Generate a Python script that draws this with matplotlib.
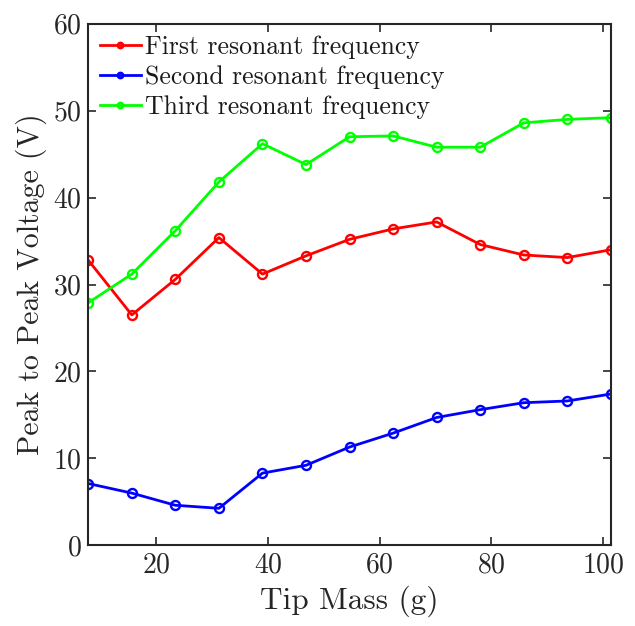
import matplotlib
matplotlib.use("Agg")
import matplotlib.pyplot as plt

plt.rcParams['font.family'] = ['cmr10', 'DejaVu Serif']
plt.rcParams['axes.formatter.use_mathtext'] = True
plt.rcParams['mathtext.fontset'] = 'cm'

tip_mass = [7.8, 15.6, 23.4, 31.2, 39.0, 46.8, 54.6, 62.4, 70.2, 78.0, 85.8, 93.6, 101.4]
first_freq = [32.8, 26.5, 30.6, 35.4, 31.2, 33.3, 35.2, 36.4, 37.2, 34.6, 33.4, 33.1, 34.0]
second_freq = [7.1, 6.0, 4.6, 4.25, 8.3, 9.2, 11.3, 12.9, 14.7, 15.6, 16.4, 16.6, 17.4]
third_freq = [27.9, 31.2, 36.2, 41.8, 46.2, 43.8, 47.0, 47.1, 45.8, 45.8, 48.6, 49.0, 49.2]
labels = ['First resonant frequency', 'Second resonant frequency', 'Third resonant frequency']
colors = ['#ff0000', '#0000ff', '#00ff00']
xticks = [20, 40, 60, 80, 100]
yticks = [0, 10, 20, 30, 40, 50, 60]

fig = plt.figure(figsize=(6.35, 6.26), dpi=100)
ax = fig.add_axes([0.139, 0.129, 0.823, 0.833])

for ys, lab, c in zip([first_freq, second_freq, third_freq], labels, colors):
    ax.plot(tip_mass, ys, '-o', color=c, lw=2, markersize=6.5, markerfacecolor='none',
            markeredgewidth=1.7, label=lab)

ax.set_xlim(tip_mass[0], tip_mass[-1])
ax.set_ylim(0, 60)
ax.set_xticks(xticks)
ax.set_yticks(yticks)
ax.tick_params(direction='in', length=6, width=1.2, top=True, right=True,
               labelsize=20, colors='#262626', pad=5)
for s in ax.spines.values():
    s.set_linewidth(1.5)
    s.set_color('#262626')
ax.set_xlabel('Tip Mass (g)', fontsize=22.5, color='#262626', labelpad=5)
ax.set_ylabel('Peak to Peak Voltage (V)', fontsize=21.5, color='#262626', labelpad=4)

leg = ax.legend(loc='upper left', frameon=False, fontsize=18.5, markerscale=0.6,
                handlelength=1.6, handletextpad=0.15, labelspacing=0.25,
                borderaxespad=0.3, borderpad=0.15)
for t in leg.get_texts():
    t.set_color('#1a1a1a')

fig.savefig('out.png', dpi=100)
